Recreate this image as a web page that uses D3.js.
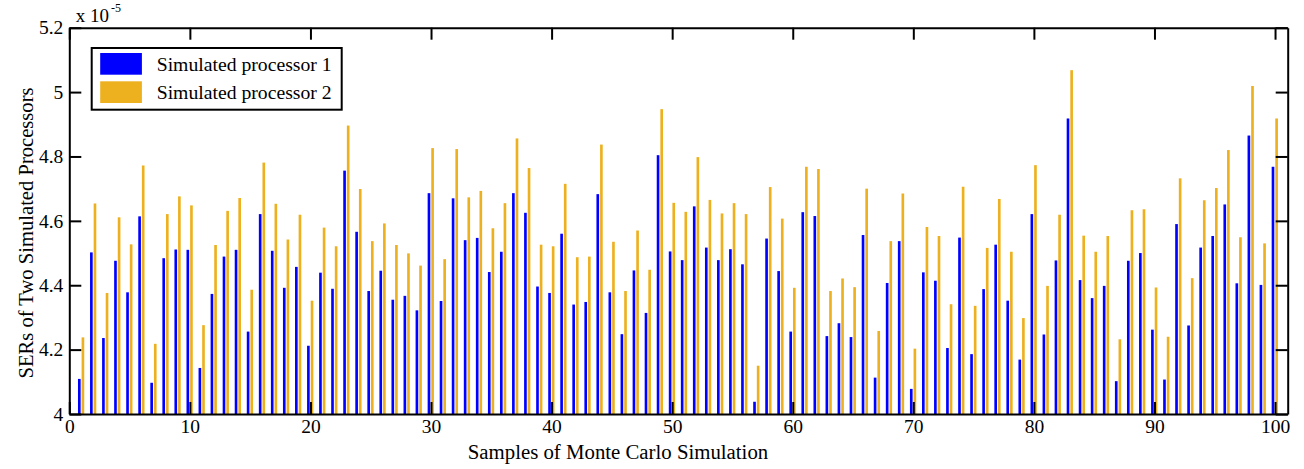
<!DOCTYPE html>
<html>
<head>
<meta charset="utf-8">
<script src="https://cdn.jsdelivr.net/npm/d3@7"></script>
<style>
  body { margin: 0; background: #fff; }
  svg text { font-family: "Liberation Serif", "Times New Roman", serif; fill: #000; }
</style>
</head>
<body>
<div class="chart"></div>
<script>
// SER values (x 10^-5), one per Monte Carlo sample
var proc1 = [4.109,4.502,4.236,4.476,4.378,4.614,4.097,4.484,4.511,4.510,
             4.143,4.373,4.489,4.510,4.256,4.621,4.507,4.392,4.457,4.212,
             4.439,4.389,4.756,4.566,4.382,4.445,4.355,4.367,4.322,4.686,
             4.351,4.670,4.540,4.547,4.441,4.504,4.686,4.625,4.396,4.376,
             4.560,4.340,4.348,4.683,4.378,4.248,4.446,4.314,4.804,4.505,
             4.478,4.645,4.517,4.478,4.512,4.465,4.038,4.545,4.444,4.256,
             4.627,4.615,4.242,4.282,4.239,4.556,4.113,4.407,4.537,4.078,
             4.440,4.414,4.205,4.548,4.186,4.388,4.526,4.352,4.169,4.621,
             4.247,4.477,4.918,4.416,4.360,4.398,4.102,4.476,4.500,4.262,
             4.107,4.590,4.275,4.517,4.553,4.651,4.406,4.865,4.401,4.768];

var proc2 = [4.238,4.654,4.376,4.611,4.527,4.772,4.218,4.621,4.676,4.648,
             4.276,4.525,4.631,4.671,4.386,4.781,4.653,4.542,4.619,4.352,
             4.579,4.521,4.896,4.699,4.537,4.592,4.525,4.499,4.461,4.826,
             4.481,4.823,4.673,4.693,4.577,4.655,4.856,4.764,4.526,4.521,
             4.715,4.487,4.489,4.837,4.535,4.382,4.570,4.448,4.947,4.656,
             4.628,4.798,4.665,4.623,4.655,4.621,4.150,4.705,4.607,4.392,
             4.768,4.761,4.382,4.421,4.394,4.700,4.258,4.537,4.685,4.203,
             4.581,4.553,4.341,4.706,4.336,4.516,4.668,4.504,4.298,4.773,
             4.398,4.619,5.068,4.554,4.504,4.553,4.232,4.633,4.636,4.393,
             4.240,4.732,4.422,4.664,4.702,4.820,4.549,5.019,4.530,4.918];

var seriesNames = ["Simulated processor 1", "Simulated processor 2"];
var seriesColors = ["#0000ff", "#edb120"];
var xTicks = [0, 10, 20, 30, 40, 50, 60, 70, 80, 90, 100];
var yTicks = [4, 4.2, 4.4, 4.6, 4.8, 5, 5.2];

var samples = proc1.map(function (d, i) { return i + 1; });
var rows = samples.map(function (s, i) {
    return { sample: s, values: [proc1[i], proc2[i]] };
});

var svgWidth = 1304;
var svgHeight = 469;

var margin = { top: 27.7, bottom: 55, right: 16.3, left: 69.3 };
var width = svgWidth - margin.left - margin.right;
var height = 414 - margin.top;

var svg = d3.select(".chart")
    .append("svg")
    .attr("width", svgWidth)
    .attr("height", svgHeight);

var chartGroup = svg.append("g")
    .attr("transform", `translate(${margin.left}, ${margin.top})`);

// scales
var xScale = d3.scaleLinear()
    .domain([0, 101.05])
    .range([0, width]);

var yScale = d3.scaleLinear()
    .domain([4, 5.2])
    .range([height, 0]);

// position of the two bars inside one sample (in sample units)
var xSub = d3.scaleBand()
    .domain([0, 1])
    .range([-0.28, 0.24])
    .paddingInner(0.267);

var barW = xScale(xSub.bandwidth()) - xScale(0);

// bars
var groups = chartGroup.selectAll(".sample")
    .data(rows)
    .enter()
    .append("g")
    .attr("class", "sample");

groups.selectAll("rect")
    .data(function (d) { return d.values.map(function (v, k) { return { s: d.sample, k: k, v: v }; }); })
    .enter()
    .append("rect")
    .attr("x", d => xScale(d.s + xSub(d.k)))
    .attr("y", d => yScale(d.v))
    .attr("width", barW)
    .attr("height", d => yScale(4) - yScale(d.v))
    .attr("fill", d => seriesColors[d.k]);

// axes (ticks point inward, like the original figure)
var tickLen = 12;

var xAxis = d3.axisBottom(xScale)
    .tickValues(xTicks)
    .tickSizeInner(-tickLen)
    .tickSizeOuter(0)
    .tickPadding(5)
    .tickFormat(d3.format("d"));

var xAxisTop = d3.axisTop(xScale)
    .tickValues(xTicks)
    .tickSizeInner(-tickLen)
    .tickSizeOuter(0)
    .tickFormat("");

var yAxis = d3.axisLeft(yScale)
    .tickValues(yTicks)
    .tickSizeInner(-tickLen)
    .tickSizeOuter(0)
    .tickPadding(6)
    .tickFormat(d3.format("~g"));

var yAxisRight = d3.axisRight(yScale)
    .tickValues(yTicks)
    .tickSizeInner(-tickLen)
    .tickSizeOuter(0)
    .tickFormat("");

chartGroup.append("g")
    .attr("class", "axis")
    .attr("transform", `translate(0,${height})`)
    .call(xAxis);

chartGroup.append("g")
    .attr("class", "axis")
    .call(xAxisTop);

chartGroup.append("g")
    .attr("class", "axis")
    .call(yAxis);

chartGroup.append("g")
    .attr("class", "axis")
    .attr("transform", `translate(${width},0)`)
    .call(yAxisRight);

chartGroup.selectAll(".axis path, .axis line")
    .attr("stroke", "#000")
    .attr("stroke-width", 2);

chartGroup.selectAll(".axis text")
    .style("font-size", "19.5px");

// exponent note above the y axis
var expo = chartGroup.append("text")
    .attr("x", 6.5)
    .attr("y", -6)
    .style("font-size", "19px");
expo.append("tspan").text("x 10");
expo.append("tspan")
    .attr("dy", -10)
    .attr("dx", 2)
    .style("font-size", "12px")
    .text("-5");

// legend
var legend = chartGroup.append("g")
    .attr("transform", `translate(${91.7 - margin.left}, ${48 - margin.top})`);

legend.append("rect")
    .attr("width", 250)
    .attr("height", 61.7)
    .attr("fill", "#fff")
    .attr("stroke", "#000")
    .attr("stroke-width", 2);

seriesNames.forEach(function (name, i) {
    legend.append("rect")
        .attr("x", 8.5)
        .attr("y", 5 + i * 28.3)
        .attr("width", 41.7)
        .attr("height", 21.7)
        .attr("fill", seriesColors[i]);
    legend.append("text")
        .attr("x", 65)
        .attr("y", 22.5 + i * 28.3)
        .style("font-size", "19.7px")
        .text(name);
});

// axis labels
svg.append("text")
    .attr("x", 618)
    .attr("y", 459)
    .attr("text-anchor", "middle")
    .style("font-size", "20.8px")
    .text("Samples of Monte Carlo Simulation");

svg.append("text")
    .attr("transform", "translate(33, 233) rotate(-90)")
    .attr("text-anchor", "middle")
    .style("font-size", "20.6px")
    .text("SERs of Two Simulated Processors");
</script>
</body>
</html>
